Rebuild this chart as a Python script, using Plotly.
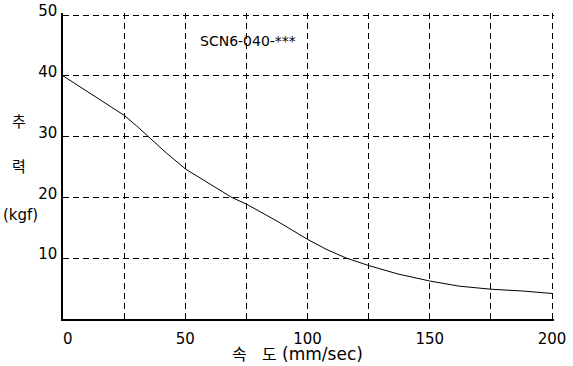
import plotly.graph_objects as go

speed = [0, 12, 20, 25, 30, 35, 42, 50, 60, 69, 75, 88, 100, 108, 116, 125, 137, 150, 162, 175, 188, 200]
thrust = [40, 36.9, 34.9, 33.5, 31.8, 30.0, 27.4, 24.7, 22.2, 20.0, 18.9, 16.0, 13.1, 11.4, 10.0, 8.8, 7.4, 6.25, 5.4, 4.9, 4.6, 4.2]
x_ticks = [0, 50, 100, 150, 200]
x_labels = ["\u00a0\u00a00", "50", "100", "150", "200"]
x_minor = [25, 75, 125, 175]
y_ticks = [10, 20, 30, 40, 50]
model = "SCN6-040-***"
x_title = ("<span style='font-size:16px'>속\u00a0\u00a0\u00a0도</span>"
           "\u00a0(mm/sec)")
y_title = ["추", "력", "(kgf)"]

FONT = "DejaVu Sans, Noto Sans CJK KR"
GRID = dict(showgrid=True, gridcolor="black", griddash="6px,4px", gridwidth=1)

fig = go.Figure()
fig.add_trace(go.Scatter(x=speed, y=thrust, mode="lines",
                         line=dict(color="black", width=1), showlegend=False))

# ranges extend ~2px past the last gridlines so plotly keeps the 50 / 200 gridlines
fig.update_xaxes(range=[0, 200.82], tickvals=x_ticks, ticktext=x_labels,
                 showline=True, linecolor="black", linewidth=1.5, zeroline=False,
                 ticks="", ticklabelstandoff=5, automargin=False,
                 tickfont=dict(family=FONT, size=15, color="black"),
                 minor=dict(tickvals=x_minor, **GRID), **GRID)
fig.update_yaxes(range=[0, 50.33], tickvals=y_ticks, ticktext=[str(v) for v in y_ticks],
                 showline=True, linecolor="black", linewidth=1.5, zeroline=False,
                 ticks="", ticklabelstandoff=1, ticklabelshift=-4, automargin=False,
                 ticklabeloverflow="allow",
                 tickfont=dict(family=FONT, size=15, color="black"), **GRID)

fig.add_annotation(text=model, x=75.6, y=45.7, xref="x", yref="y", showarrow=False,
                   font=dict(family=FONT, size=14, color="black"))
fig.add_annotation(text=x_title, x=0.5, y=0, xref="paper", yref="paper",
                   xanchor="center", yanchor="middle", yshift=-35, xshift=-11, showarrow=False,
                   font=dict(family=FONT, size=17, color="black"))
for txt, ypix, xpix, fs in zip(y_title, [122, 167, 215], [19, 19, 20], [15, 15, 15]):
    fig.add_annotation(text=txt, x=0, y=1, xref="paper", yref="paper",
                       xanchor="center", yanchor="middle",
                       xshift=xpix - 63, yshift=-(ypix - 13), showarrow=False,
                       font=dict(family=FONT, size=fs, color="black"))

fig.update_layout(width=573, height=366, margin=dict(l=63, r=19, t=13, b=47, autoexpand=False),
                  paper_bgcolor="white", plot_bgcolor="white")

# drop the page's default 8px body margin so the figure fills the window exactly
fig.write_html("out.html", config={"displayModeBar": False},
               post_script="document.body.style.margin='0';")
